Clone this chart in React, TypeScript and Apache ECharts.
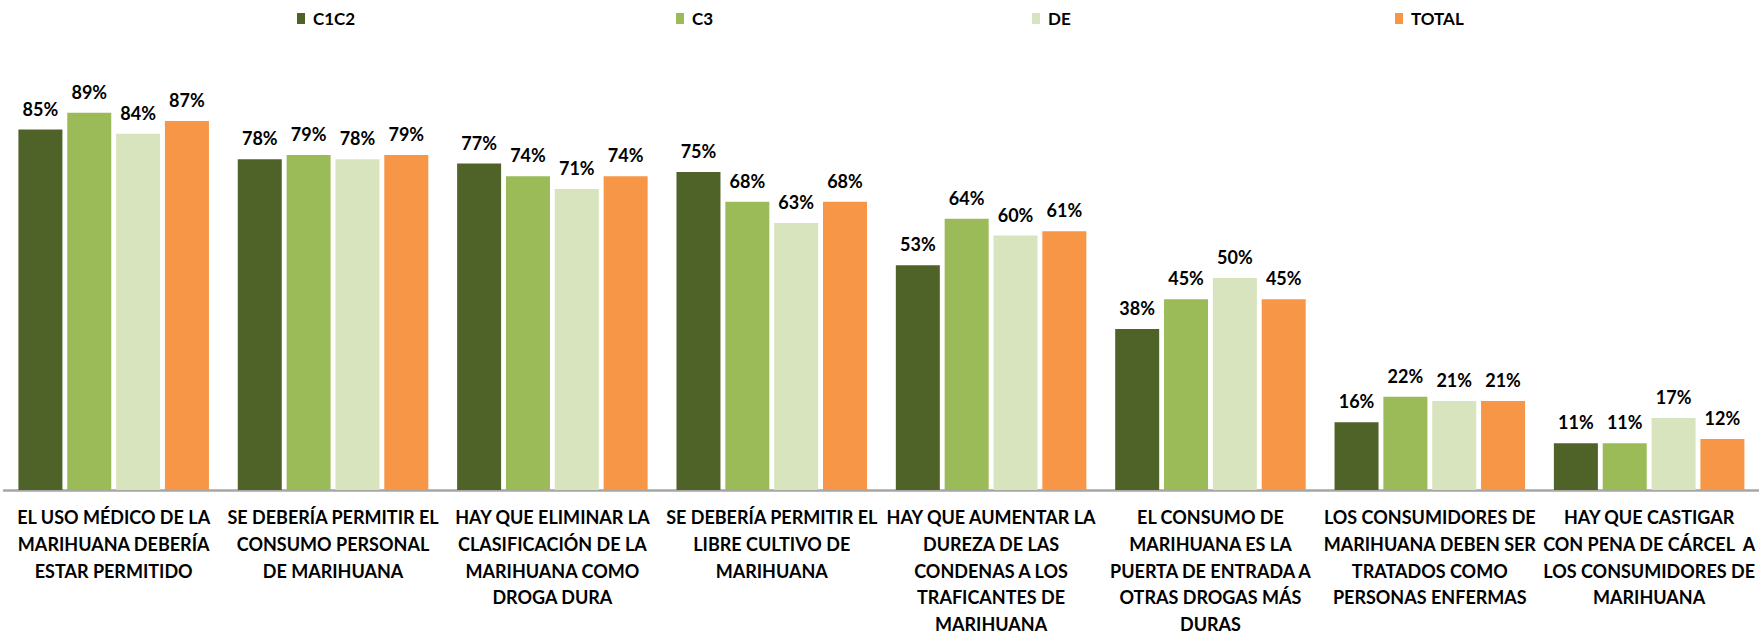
import React, { useEffect, useRef } from "react";
import * as echarts from "echarts";

const categories = [
  "EL USO MÉDICO DE LA\nMARIHUANA DEBERÍA\nESTAR PERMITIDO",
  "SE DEBERÍA PERMITIR EL\nCONSUMO PERSONAL\nDE MARIHUANA",
  "HAY QUE ELIMINAR LA\nCLASIFICACIÓN DE LA\nMARIHUANA COMO\nDROGA DURA",
  "SE DEBERÍA PERMITIR EL\nLIBRE CULTIVO DE\nMARIHUANA",
  "HAY QUE AUMENTAR LA\nDUREZA DE LAS\nCONDENAS A LOS\nTRAFICANTES DE\nMARIHUANA",
  "EL CONSUMO DE\nMARIHUANA ES LA\nPUERTA DE ENTRADA A\nOTRAS DROGAS MÁS\nDURAS",
  "LOS CONSUMIDORES DE\nMARIHUANA DEBEN SER\nTRATADOS COMO\nPERSONAS ENFERMAS",
  "HAY QUE CASTIGAR\nCON PENA DE CÁRCEL  A\nLOS CONSUMIDORES DE\nMARIHUANA",
];

const seriesNames = ["C1C2", "C3", "DE", "TOTAL"];
const c1c2 = [85, 78, 77, 75, 53, 38, 16, 11];
const c3 = [89, 79, 74, 68, 64, 45, 22, 11];
const de = [84, 78, 71, 63, 60, 50, 21, 17];
const total = [87, 79, 74, 68, 61, 45, 21, 12];

const seriesData = [c1c2, c3, de, total];
const colors = ["#4F6228", "#9BBB59", "#D7E4BD", "#F79646"];
const legendLefts = [297, 676, 1032, 1395];

const FONT = "Lato, 'Open Sans', sans-serif";

export default function App() {
  const ref = useRef<HTMLDivElement>(null);

  useEffect(() => {
    if (!ref.current) return;
    const chart = echarts.init(ref.current, null, { renderer: "svg" });
    const option = {
      animation: false,
      backgroundColor: "#ffffff",
      legend: seriesNames.map((n, i) => ({
        data: [n],
        left: legendLefts[i],
        top: 10,
        icon: "rect",
        itemWidth: 8,
        itemHeight: 11,
        itemGap: 5,
        padding: 0,
        textStyle: {
          fontFamily: FONT,
          fontWeight: "bold",
          fontSize: 17,
          color: "#000",
          padding: [0, 0, 0, 3],
        },
      })),
      grid: { left: 4, right: 0, top: 66, bottom: 141, containLabel: false },
      xAxis: {
        type: "category",
        data: categories,
        axisTick: { show: false },
        axisLine: { lineStyle: { color: "#A6A6A6", width: 2.5 } },
        axisLabel: {
          interval: 0,
          margin: 14,
          fontFamily: FONT,
          fontWeight: "bold",
          fontSize: 18,
          lineHeight: 26.6,
          color: "#000",
          overflow: "none",
        },
      },
      yAxis: {
        type: "value",
        min: 0,
        max: 100,
        show: false,
        splitLine: { show: false },
      },
      series: seriesNames.map((n, i) => ({
        name: n,
        type: "bar",
        data: seriesData[i],
        barWidth: 44,
        barGap: "11%",
        itemStyle: { color: colors[i] },
        label: {
          show: true,
          position: "top",
          distance: 12,
          formatter: "{c}%",
          fontFamily: FONT,
          fontWeight: "bold",
          fontSize: 18,
          lineHeight: 18,
          color: "#000",
        },
      })),
    };
    chart.setOption(option);
    return () => chart.dispose();
  }, []);

  return (
    <div
      ref={ref}
      style={{ position: "fixed", left: 0, top: 0, width: 1759, height: 637 }}
    />
  );
}
